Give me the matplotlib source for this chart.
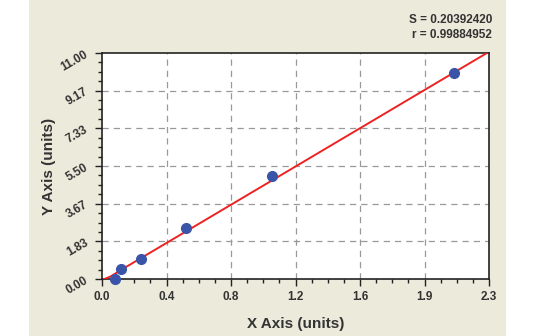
import numpy as np
import matplotlib
matplotlib.use('Agg')
import matplotlib.pyplot as plt
from matplotlib.patches import Rectangle
from matplotlib.ticker import AutoMinorLocator

# data
x_pts = [0.08, 0.11, 0.23, 0.50, 1.01, 2.09]
y_pts = [0.02, 0.47, 0.96, 2.48, 5.01, 10.04]
fit_x = [0.0, 0.05, 0.15, 2.3]
fit_y = [-0.05, 0.12, 0.62, 11.06]
x_ticks = [0.0, 2.3 / 6, 2 * 2.3 / 6, 3 * 2.3 / 6, 4 * 2.3 / 6, 5 * 2.3 / 6, 2.3]
x_labels = ['0.0', '0.4', '0.8', '1.2', '1.6', '1.9', '2.3']
y_ticks = [0.0, 11 / 6, 2 * 11 / 6, 3 * 11 / 6, 4 * 11 / 6, 5 * 11 / 6, 11.0]
y_labels = ['0.00', '1.83', '3.67', '5.50', '7.33', '9.17', '11.00']
stat_s = 'S = 0.20392420'
stat_r = 'r = 0.99884952'

plt.rcParams['font.family'] = ['Liberation Sans', 'DejaVu Sans']
txt = '#333333'

fig = plt.figure(figsize=(5.4, 3.36), dpi=100)
fig.patch.set_facecolor('white')
fig.patches.append(Rectangle((29 / 540, 0), (506 - 29) / 540, 1, transform=fig.transFigure,
                             facecolor='#ECEADB', edgecolor='none', zorder=-10))

ax = fig.add_axes([102 / 540, 57 / 336, 387 / 540, 226 / 336])
ax.set_facecolor('white')

# fit line
ax.plot(fit_x, fit_y, color='#EE2222', lw=1.4, zorder=3)
ax.plot(x_pts, y_pts, 'o', color='#3A55A8', ms=7, zorder=4, clip_on=False)

ax.set_xlim(0, 2.3)
ax.set_ylim(0, 11)
ax.set_xticks(x_ticks)
ax.set_xticklabels(x_labels)
ax.set_yticks(y_ticks)
ax.set_yticklabels(y_labels, rotation=30)
ax.xaxis.set_minor_locator(AutoMinorLocator(4))
ax.yaxis.set_minor_locator(AutoMinorLocator(4))
ax.tick_params(which='major', direction='out', length=5, width=1, color='#222222',
               labelsize=8.5, labelcolor=txt)
ax.tick_params(which='minor', direction='out', length=3, width=1, color='#222222')
for lab in ax.get_xticklabels() + ax.get_yticklabels():
    lab.set_fontweight('bold')

for v in x_ticks[1:-1]:
    ax.axvline(v, color='#999999', lw=0.9, ls=(0, (5, 4)), zorder=1)
for v in y_ticks[1:-1]:
    ax.axhline(v, color='#999999', lw=0.9, ls=(0, (5, 4)), zorder=1)

for s in ax.spines.values():
    s.set_color('#222222')
    s.set_linewidth(1.2)

ax.set_xlabel('X Axis (units)', fontsize=11, fontweight='bold', color=txt, labelpad=10)
ax.set_ylabel('Y Axis (units)', fontsize=11, fontweight='bold', color=txt, labelpad=2)

fig.text(492 / 540, 1 - 20 / 336, stat_s, ha='right', va='center', fontsize=8.5,
         fontweight='bold', color=txt)
fig.text(492 / 540, 1 - 35 / 336, stat_r, ha='right', va='center', fontsize=8.5,
         fontweight='bold', color=txt)

fig.savefig('out.png', dpi=100, facecolor=fig.get_facecolor())
